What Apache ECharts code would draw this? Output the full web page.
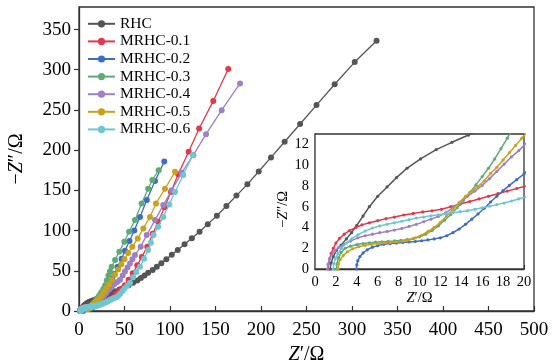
<!DOCTYPE html>
<html>
<head>
<meta charset="utf-8">
<script src="https://cdn.jsdelivr.net/npm/echarts@6/dist/echarts.min.js"></script>
<style>
  html, body { margin: 0; padding: 0; background: #fff; }
  #chart { width: 552px; height: 362px; }
</style>
</head>
<body>
<div id="chart"></div>
<script>
// Nyquist data, [Z' (Ω), -Z'' (Ω)] pairs, high frequency first
const seriesNames = ['RHC', 'MRHC-0.1', 'MRHC-0.2', 'MRHC-0.3', 'MRHC-0.4', 'MRHC-0.5', 'MRHC-0.6'];

const rhc = [[1.45,0],[1.55,0.6],[1.75,1.2],[2.05,1.8],[2.5,2.3],[3.0,2.9],[3.5,3.5],[4.0,4.2],[4.6,5.1],[5.2,6.0],[6.0,7.0],[6.9,7.9],[7.8,8.8],[8.8,9.7],[10.1,10.6],[11.6,11.5],[13.1,12.2],[14.7,12.9],[16.6,13.8],[19,15],[22,16.5],[25.5,18],[29.5,19.8],[33,21.5],[36.5,23],[40,24.6],[44.5,26.8],[49.5,29],[54.5,32],[59.5,35],[64,38],[68,41],[72,44],[76,47.5],[81,51],[85.5,55],[90.5,59.5],[96,64.5],[102,70],[108.5,76],[116,83],[124,90.5],[132.5,98.5],[141.5,108],[151.5,118.5],[162,130.5],[173,143.5],[185,157.5],[197.5,173.5],[211,191],[226,210.5],[243,232.5],[261,256],[281,282],[303,309.5],[327,336]];

const mrhc01 = [[1.25,0],[1.3,0.5],[1.4,1.0],[1.55,1.5],[1.75,2.0],[2.0,2.5],[2.35,2.95],[2.8,3.35],[3.3,3.7],[3.9,4.0],[4.5,4.25],[5.2,4.45],[6.0,4.65],[6.8,4.85],[7.6,5.0],[8.5,5.2],[9.4,5.35],[10.3,5.5],[11.2,5.6],[12.1,5.75],[13.0,6.0],[13.9,6.25],[14.8,6.5],[15.7,6.75],[16.6,7.0],[17.5,7.25],[18.4,7.5],[19.3,7.75],[20.2,8.0],[21.5,8.4],[23,9],[25,9.8],[27,10.8],[29.5,12],[32,13.3],[35,15],[38,17.5],[41,21],[44,24.5],[47,28],[50.5,32],[54.5,39],[59,47],[64,57],[69,67],[75,80],[81,96],[87,111],[94,129],[101,148],[109,170],[120.5,198],[132,227],[147.5,261],[164,301]];

const mrhc02 = [[3.95,0],[4.0,0.4],[4.1,0.8],[4.3,1.2],[4.6,1.55],[5.0,1.85],[5.5,2.1],[6.0,2.25],[6.6,2.38],[7.2,2.45],[7.8,2.5],[8.4,2.55],[9.0,2.6],[9.6,2.65],[10.2,2.72],[10.8,2.8],[11.4,2.9],[12.0,3.0],[12.6,3.2],[13.2,3.5],[13.8,3.85],[14.4,4.3],[15.0,4.8],[15.6,5.3],[16.2,5.85],[16.8,6.45],[17.4,7.0],[18.0,7.55],[18.6,8.05],[19.3,8.6],[20.0,9.15],[21,10.2],[22.2,11.8],[23.5,13.8],[25,16.2],[26.6,19],[28.4,22],[30.3,25],[32.3,29.5],[34.5,35],[36.6,40],[38.8,46],[42.5,55],[46.8,65],[50.5,75],[55.5,87],[60.7,100],[67,117],[74.5,138],[83.5,161.5],[93.7,186]];

const mrhc03 = [[2.07,0],[2.1,0.5],[2.25,1.1],[2.5,1.6],[2.9,2.0],[3.4,2.2],[4.0,2.35],[4.6,2.45],[5.2,2.52],[5.8,2.58],[6.4,2.62],[7.0,2.66],[7.6,2.7],[8.2,2.75],[8.8,2.82],[9.4,2.92],[10.0,3.1],[10.6,3.35],[11.2,3.7],[11.8,4.15],[12.4,4.7],[13.0,5.25],[13.6,5.9],[14.2,6.6],[14.8,7.35],[15.4,8.1],[16.0,8.9],[16.6,9.7],[17.2,10.6],[17.8,11.6],[18.4,12.6],[19,13.6],[19.8,15],[20.8,16.5],[22,18.5],[23.4,21],[25,24],[26.8,27.5],[28.8,32],[30.5,38],[32.3,44],[34,49.5],[35.9,55],[39.6,63.4],[44.3,73.7],[49.8,86],[55,98.5],[61.5,113],[68.8,133.8],[76,152],[80.6,163],[87.5,175]];

const mrhc04 = [[1.2,0],[1.25,0.45],[1.4,0.95],[1.6,1.35],[1.9,1.75],[2.3,2.1],[2.8,2.4],[3.4,2.7],[4.1,3.0],[4.8,3.2],[5.5,3.35],[6.2,3.5],[6.9,3.62],[7.6,3.75],[8.3,3.9],[9.0,4.1],[9.7,4.3],[10.4,4.55],[11.1,4.8],[11.8,5.05],[12.5,5.4],[13.2,5.9],[13.9,6.45],[14.6,7.0],[15.3,7.5],[16.0,8.05],[16.7,8.7],[17.4,9.4],[18.1,10.1],[18.8,10.8],[19.5,11.4],[20.2,12.1],[21.5,13.2],[23,14.7],[25,16.8],[27.5,19.5],[30,22.5],[33,26.5],[36,30],[39,33.5],[42,36],[45,39],[48,44],[50.5,49],[53.3,54],[56,59],[58.7,64.5],[61.5,69.6],[67.8,80],[74.4,94.4],[83.5,113],[92.6,131.7],[101.8,150],[113,172],[125.6,193.8],[139.6,219.9],[156.8,249.7],[177,283]];

const mrhc05 = [[2.2,0],[2.25,0.5],[2.4,0.9],[2.7,1.3],[3.1,1.65],[3.6,1.95],[4.2,2.15],[4.8,2.28],[5.4,2.38],[6.0,2.45],[6.6,2.5],[7.2,2.55],[7.8,2.6],[8.4,2.68],[9.0,2.8],[9.6,3.0],[10.2,3.25],[10.8,3.6],[11.4,4.0],[12.0,4.5],[12.6,5.1],[13.2,5.75],[13.8,6.4],[14.4,7.0],[15.0,7.5],[15.6,7.95],[16.2,8.5],[16.8,9.2],[17.4,9.8],[18.0,10.5],[18.6,11.2],[19.2,11.9],[19.8,12.6],[20.4,13.3],[21.5,14.5],[23,16.5],[25,19.5],[27.5,23.5],[30,28],[33,33],[36,38.5],[39.5,45],[43,51.5],[46.5,58],[50,64.5],[54,72],[58.6,80],[64.5,90],[70.7,102.7],[78,117],[84.6,133.8],[94.5,152],[105.5,173]];

const mrhc06 = [[1.75,0],[1.8,0.5],[1.95,1.0],[2.2,1.5],[2.55,2.0],[3.0,2.5],[3.5,2.9],[4.1,3.3],[4.8,3.65],[5.5,3.95],[6.2,4.15],[6.9,4.3],[7.6,4.45],[8.3,4.6],[9.0,4.75],[9.7,4.9],[10.4,5.0],[11.1,5.12],[11.8,5.22],[12.5,5.32],[13.2,5.42],[13.9,5.52],[14.6,5.62],[15.3,5.75],[16.0,5.9],[16.7,6.05],[17.4,6.2],[18.1,6.35],[18.8,6.55],[19.5,6.75],[20.2,6.95],[21.5,7.3],[23,7.8],[25,8.6],[27,9.5],[29,10.5],[31,11.6],[33,12.8],[35,14],[37,15.2],[39,16.3],[41,17.2],[43,18.5],[45,21],[47.5,24.5],[50,28],[53,31.5],[56,35],[59.5,42],[63,48.5],[67,55],[71.5,65],[76,76],[79,85],[82,94.4],[87,104.7],[92.6,117],[99.2,132.5],[105.5,148],[114.6,169],[125,194]];

const seriesData = [rhc, mrhc01, mrhc02, mrhc03, mrhc04, mrhc05, mrhc06];

// Axis ranges and tick steps
const mainX = { min: 0, max: 500, interval: 50 };
const mainY = { min: 0, max: 378, interval: 50 };
const insetX = { min: 0, max: 20, interval: 2 };
const insetY = { min: 0, max: 13, interval: 2 };

const palette = ['#555555', '#e3384a', '#3f6cc6', '#5eab78', '#9e80c6', '#c9a21c', '#6ec6d3'];
const serif = '"Liberation Serif", "Times New Roman", "DejaVu Serif", serif';
const axisColor = '#333333';

const chart = echarts.init(document.getElementById('chart'), null, { renderer: 'canvas' });

function nameRich(size) {
  return {
    i: { fontFamily: serif, fontStyle: 'italic', fontSize: size, color: '#000' },
    n: { fontFamily: serif, fontSize: size, color: '#000' }
  };
}

function valueAxis(range, opts) {
  return Object.assign({
    type: 'value',
    min: range.min,
    max: range.max,
    interval: range.interval,
    splitLine: { show: false },
    axisLine: { show: true, onZero: false, lineStyle: { color: axisColor, width: 1.3 } },
    axisTick: { show: true, lineStyle: { color: axisColor, width: 1.2 } },
    axisLabel: { color: '#000', fontFamily: serif, showMaxLabel: false }
  }, opts);
}

const series = [];
seriesData.forEach((d, k) => {
  // main plot
  series.push({
    name: seriesNames[k],
    type: 'line',
    xAxisIndex: 0, yAxisIndex: 0,
    data: d,
    symbol: 'circle',
    symbolSize: 6,
    showAllSymbol: true,
    clip: true,
    itemStyle: { color: palette[k] },
    lineStyle: { color: palette[k], width: 1.3 },
    z: 2 + k * 0.01
  });
  // zoomed inset (0–20 Ω)
  series.push({
    name: seriesNames[k],
    type: 'line',
    xAxisIndex: 1, yAxisIndex: 1,
    data: d,
    symbol: 'circle',
    symbolSize: 3.2,
    showAllSymbol: true,
    clip: true,
    itemStyle: { color: palette[k] },
    lineStyle: { color: palette[k], width: 1.5 },
    z: 5 + k * 0.01
  });
});

chart.setOption({
  animation: false,
  backgroundColor: '#ffffff',
  textStyle: { fontFamily: serif },
  grid: [
    { left: 79, right: 18, top: 7, bottom: 51, outerBoundsMode: 'none', containLabel: false,
      show: true, borderColor: axisColor, borderWidth: 1.3, backgroundColor: 'transparent' },
    { left: 315, right: 28, top: 134, bottom: 93, outerBoundsMode: 'none', containLabel: false,
      show: true, borderColor: axisColor, borderWidth: 1.3, backgroundColor: '#ffffff', z: 4 }
  ],
  legend: {
    orient: 'vertical',
    left: 82,
    top: 10,
    itemWidth: 27,
    itemHeight: 9,
    itemGap: 0,
    data: seriesNames,
    textStyle: { fontFamily: serif, fontSize: 15.5, color: '#000', lineHeight: 17.6 },
    selectedMode: false
  },
  xAxis: [
    valueAxis(mainX, {
      gridIndex: 0,
      axisTick: { show: true, inside: true, length: 5, lineStyle: { color: axisColor, width: 1.2 } },
      axisLabel: { color: '#000', fontFamily: serif, fontSize: 19, margin: 10, showMaxLabel: true },
      name: '{i|Z}{n|′/Ω}',
      nameLocation: 'middle',
      nameGap: 28,
      nameTextStyle: { rich: nameRich(20) }
    }),
    valueAxis(insetX, {
      gridIndex: 1,
      axisTick: { show: true, inside: true, length: 4, lineStyle: { color: axisColor, width: 1.1 } },
      axisLabel: { color: '#000', fontFamily: serif, fontSize: 14.5, margin: 6, showMaxLabel: true },
      name: '{i|Z}{n|′/Ω}',
      nameLocation: 'middle',
      nameGap: 22,
      nameTextStyle: { rich: nameRich(14.5) }
    })
  ],
  yAxis: [
    valueAxis(mainY, {
      gridIndex: 0,
      axisTick: { show: true, inside: false, length: 5, lineStyle: { color: axisColor, width: 1.2 } },
      axisLabel: { color: '#000', fontFamily: serif, fontSize: 19, margin: 8, showMaxLabel: false },
      name: '{n|−}{i|Z}{n|″/Ω}',
      nameLocation: 'middle',
      nameGap: 52,
      nameTextStyle: { rich: nameRich(20) }
    }),
    valueAxis(insetY, {
      gridIndex: 1,
      axisTick: { show: true, inside: true, length: 4, lineStyle: { color: axisColor, width: 1.1 } },
      axisLabel: { color: '#000', fontFamily: serif, fontSize: 14.5, margin: 6, showMaxLabel: false },
      name: '{n|−}{i|Z}{n|″/Ω}',
      nameLocation: 'middle',
      nameGap: 22,
      nameTextStyle: { rich: nameRich(14.5), padding: [0, 16, 0, 0] }
    })
  ],
  series: series
});
</script>
</body>
</html>
